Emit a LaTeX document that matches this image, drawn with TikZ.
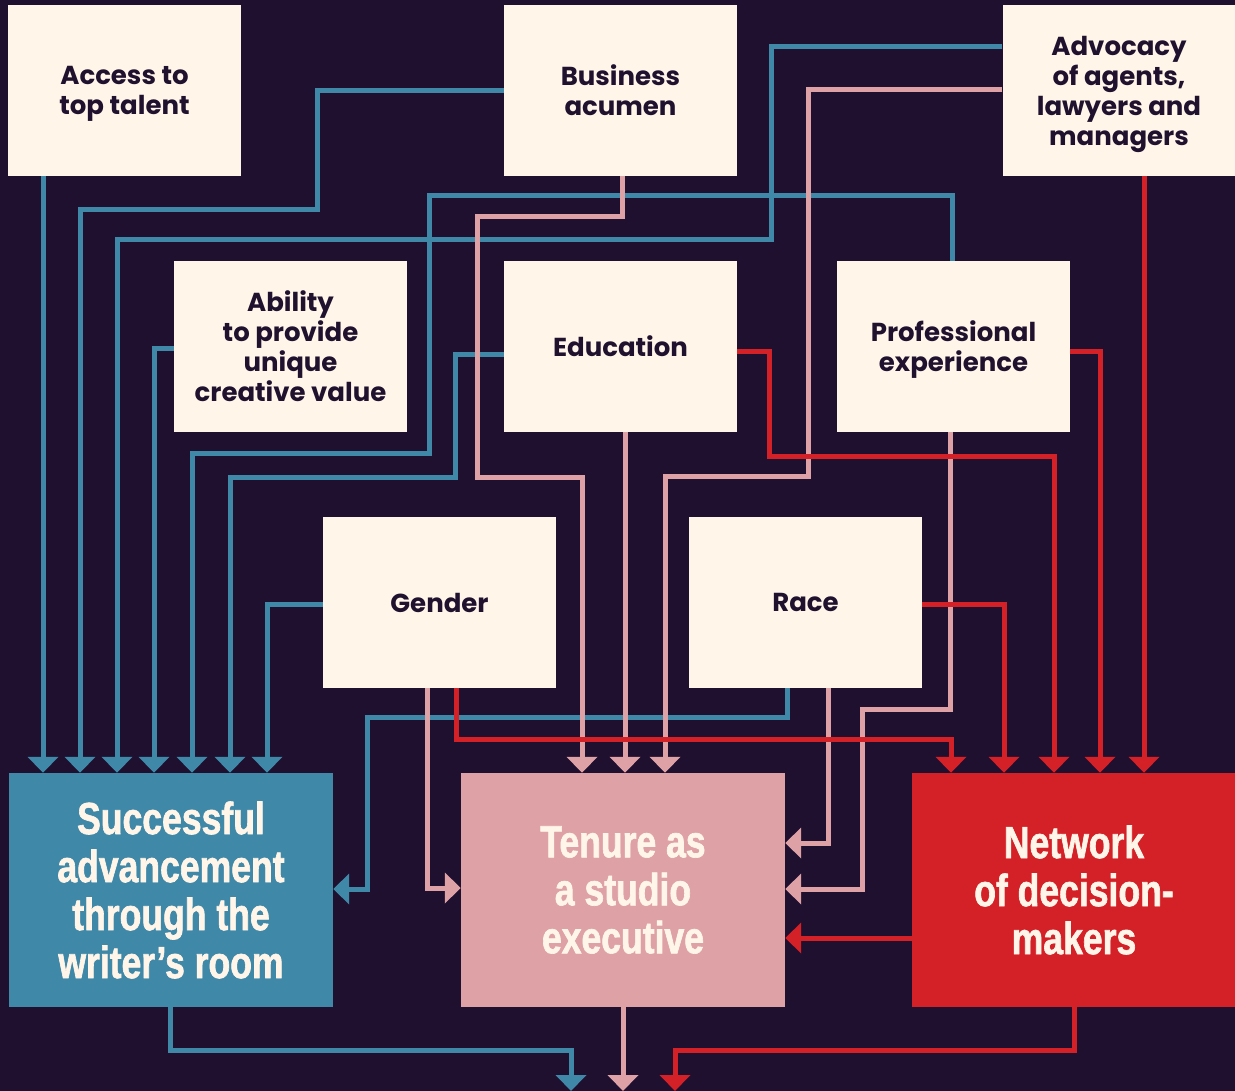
\documentclass[tikz,border=0pt]{standalone}
\usepackage{fontspec}
\usetikzlibrary{arrows.meta}
\newfontfamily\smallfont{Poppins}
\newfontfamily\bigfont[FakeStretch=0.79,FakeBold=1.4]{Liberation Sans}
\definecolor{bgc}{HTML}{1F1030}
\definecolor{cream}{HTML}{FFF6E9}
\definecolor{blu}{HTML}{3F88A8}
\definecolor{pnk}{HTML}{DEA1A6}
\definecolor{rdd}{HTML}{D42027}
\definecolor{ink}{HTML}{20112F}
\tikzset{
  factor/.style={fill=cream, text=ink, inner sep=0pt, minimum width=233pt, minimum height=171pt,
    align=center, text depth=0pt, font=\smallfont\bfseries\fontsize{26}{30}\selectfont},
  outcome/.style={inner sep=0pt, minimum width=324pt, minimum height=234pt, text=cream,
    align=center, font=\bigfont\bfseries\fontsize{45}{48}\selectfont},
  conn/.style={line width=5pt, -{Triangle[width=30pt,length=16pt]}},
  bl/.style={conn, color=blu},
  pk/.style={conn, color=pnk},
  rd/.style={conn, color=rdd},
}
\begin{document}
\begin{tikzpicture}[x=1pt,y=-1pt]
\fill[bgc] (0,0) rectangle (1235,1091);
\useasboundingbox (0,0) rectangle (1235,1091);

% factor boxes
\node[factor] (acc) at (124.5,90.5) {Access to\\top talent};
\node[factor] (bus) at (620.5,90.5) {Business\\acumen};
\node[factor] (adv) at (1119,90.5) {Advocacy\\of agents,\\lawyers and\\managers};
\node[factor] (abi) at (290.5,346.5) {Ability\\to provide\\unique\\creative value};
\node[factor] (edu) at (620.5,346.5) {Education};
\node[factor] (pro) at (953.5,346.5) {Professional\\experience};
\node[factor] (gen) at (439.5,602.5) {Gender};
\node[factor] (rac) at (805.5,602.5) {Race};

% outcome boxes
\node[outcome, fill=blu] (suc) at (171,890) {Successful\\advancement\\through the\\writer’s room};
\node[outcome, fill=pnk] (ten) at (623,890) {Tenure as\\a studio\\executive};
\node[outcome, fill=rdd] (net) at (1074,890) {Network\\of decision-\\makers};

\coordinate (outB) at (571,1091);
\coordinate (outP) at (623,1091);
\coordinate (outR) at (675,1091);

% blue connectors -> Successful advancement
\draw[bl] (43,0 |- acc.south) -- (43,0 |- suc.north);
\draw[bl] (bus.west) -| (317,210) -| (80,0 |- suc.north);
\draw[bl] (adv.west |- 0,47) -| (771,240) -| (117,0 |- suc.north);
\draw[bl] (abi.west |- 0,349) -| (154,0 |- suc.north);
\draw[bl] (952,0 |- pro.north) |- (429,196) |- (192,453) -- (192,0 |- suc.north);
\draw[bl] (edu.west |- 0,355) -| (455,477) -| (230,0 |- suc.north);
\draw[bl] (gen.west |- 0,604) -| (267,0 |- suc.north);
\draw[bl] (787,0 |- rac.south) |- (367,717) |- (suc.east |- 0,889);

% pink connectors -> Tenure
\draw[pk] (622,0 |- bus.south) |- (477,217) |- (582,477) -- (582,0 |- ten.north);
\draw[pk] (625,0 |- edu.south) -- (625,0 |- ten.north);
\draw[pk] (adv.west |- 0,90) -| (808,476) -| (665,0 |- ten.north);
\draw[pk] (427,0 |- gen.south) |- (ten.west |- 0,888);
\draw[pk] (828,0 |- rac.south) |- (ten.east |- 0,843);
\draw[pk] (950,0 |- pro.south) |- (862,709) |- (ten.east |- 0,889);

% red connectors -> Network
\draw[rd] (456,0 |- gen.south) |- (951,739) -- (951,0 |- net.north);
\draw[rd] (rac.east |- 0,604) -| (1004,0 |- net.north);
\draw[rd] (edu.east |- 0,352) -| (769,456) -| (1054,0 |- net.north);
\draw[rd] (pro.east |- 0,352) -| (1100,0 |- net.north);
\draw[rd] (1144,0 |- adv.south) -- (1144,0 |- net.north);
\draw[rd] (net.west |- 0,938) -- (ten.east |- 0,938);

% outputs
\draw[bl] (170,0 |- suc.south) |- (571,1050) -- (outB);
\draw[pk] (623,0 |- ten.south) -- (outP);
\draw[rd] (1074,0 |- net.south) |- (675,1050) -- (outR);
\end{tikzpicture}
\end{document}
